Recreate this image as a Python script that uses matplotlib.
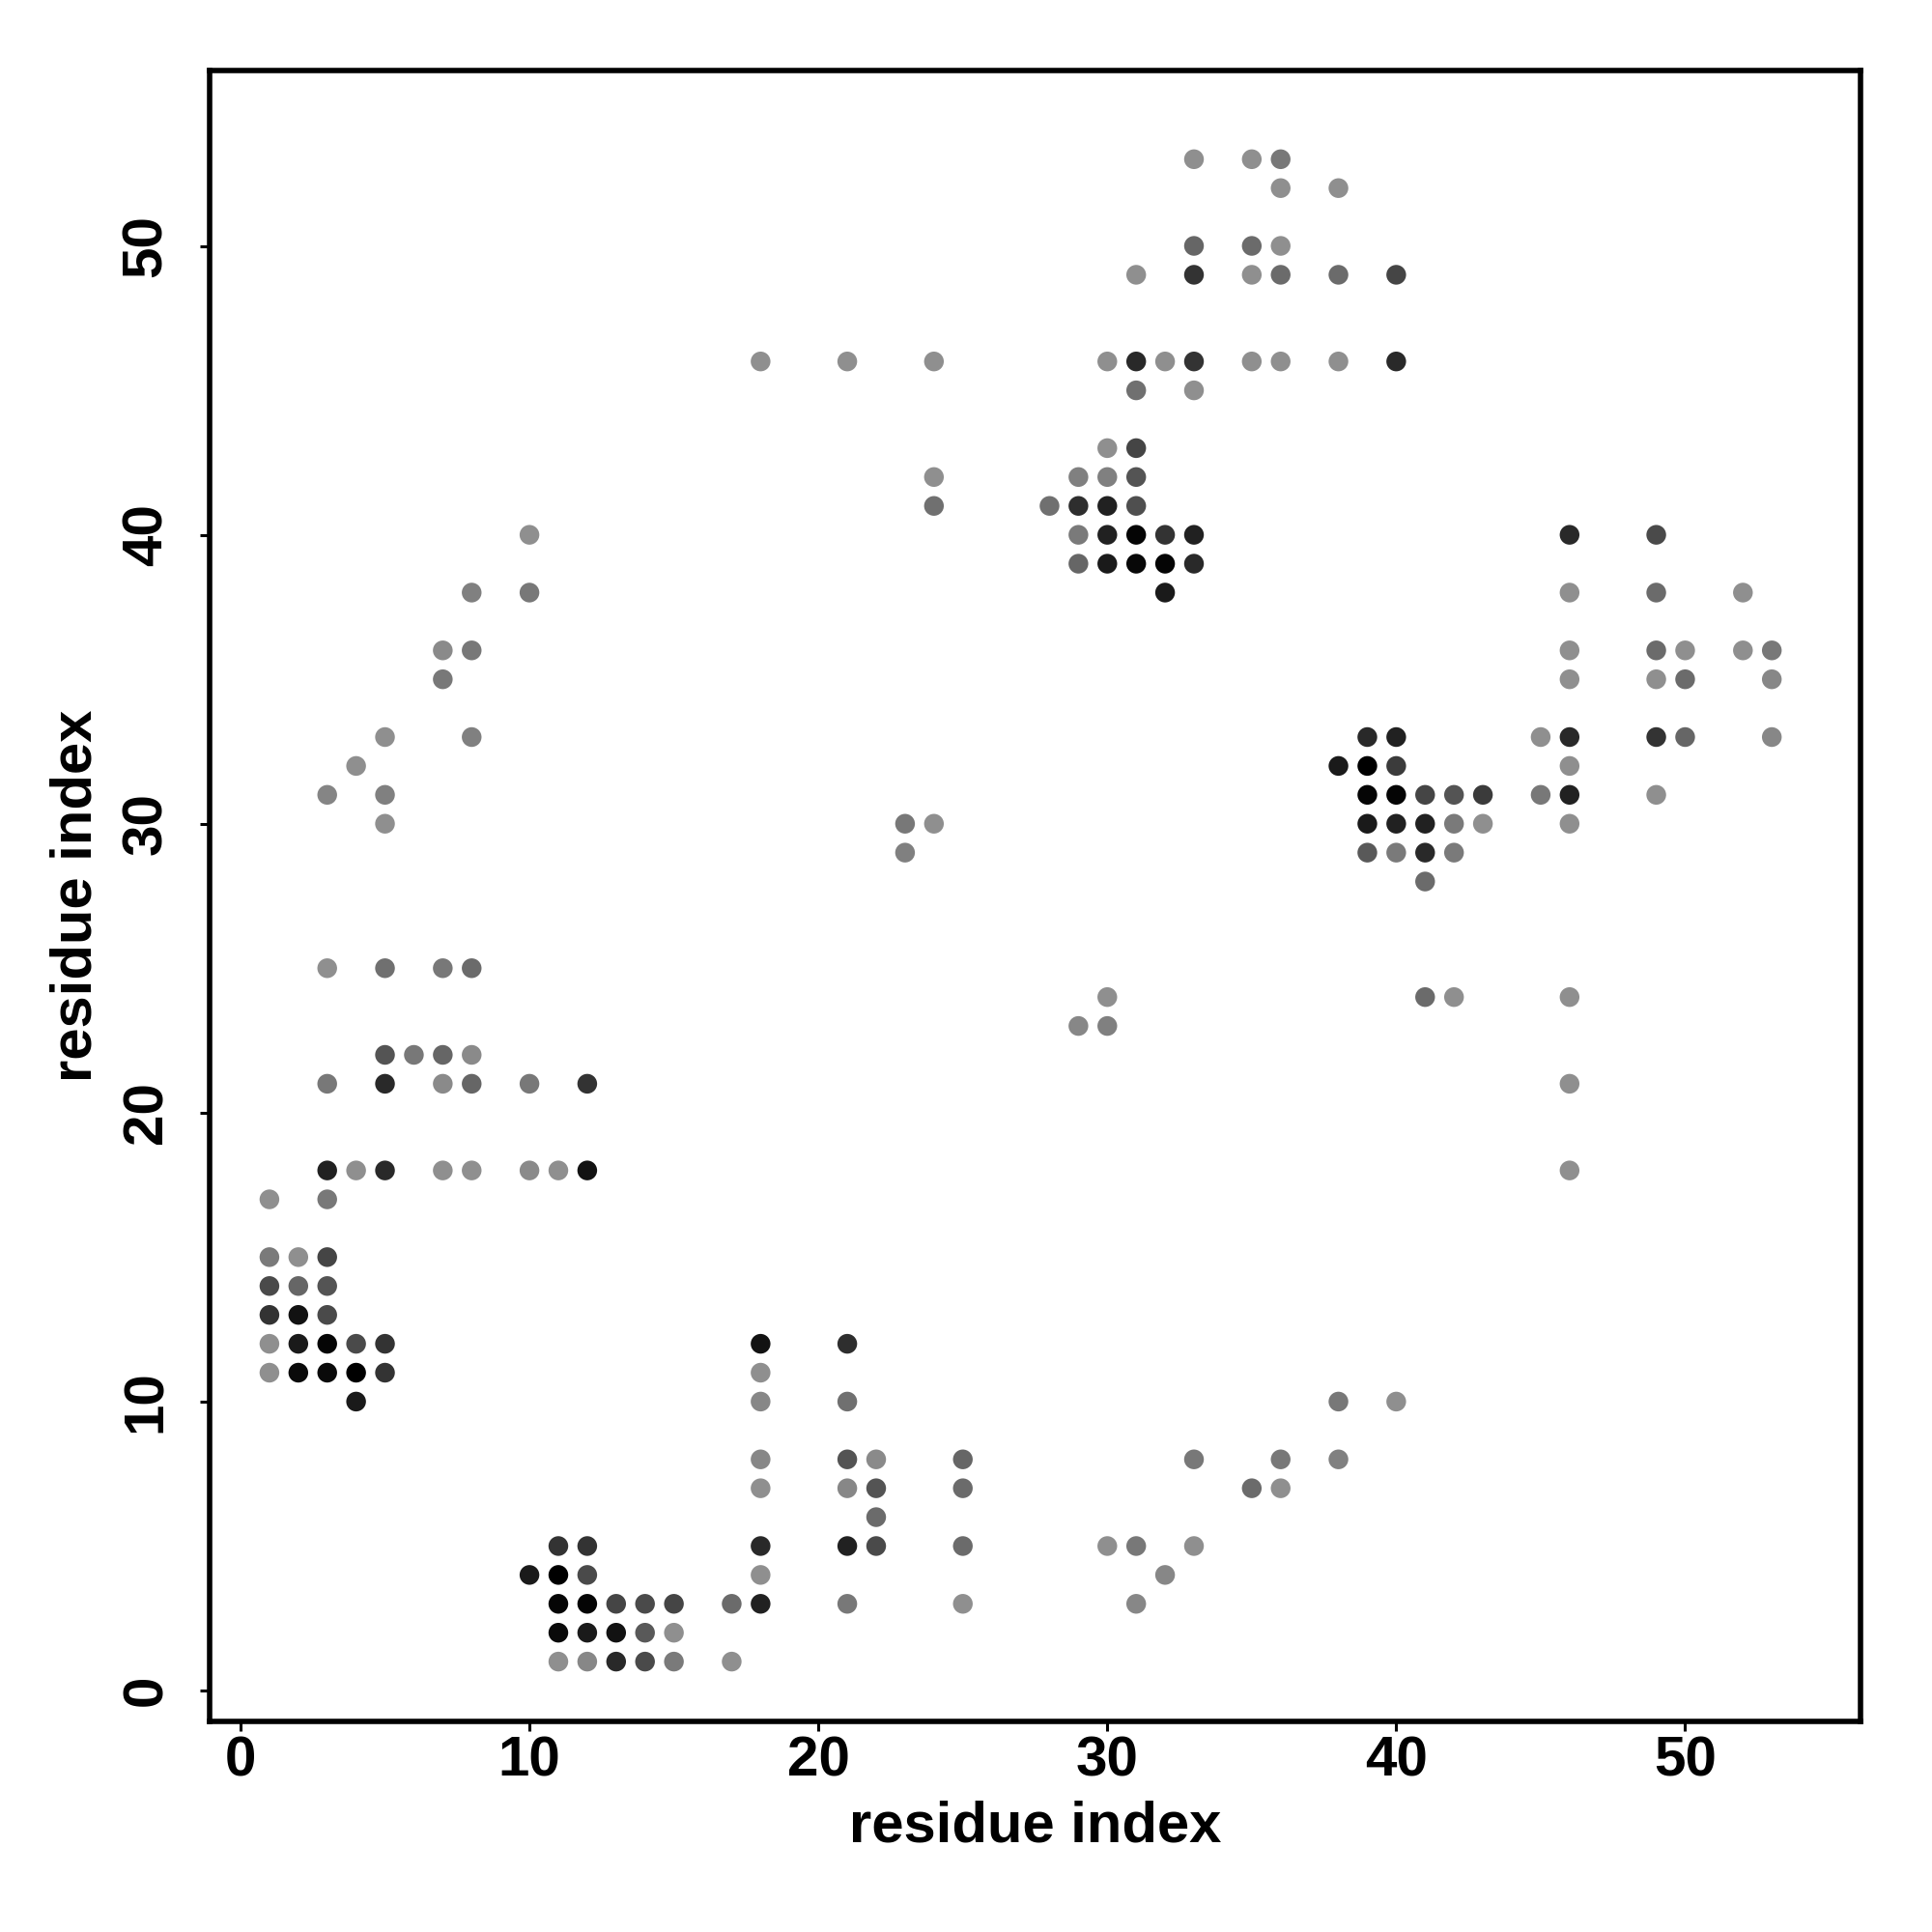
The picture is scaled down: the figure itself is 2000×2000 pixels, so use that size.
import matplotlib
matplotlib.use("Agg")
import matplotlib.pyplot as plt

plt.rcParams["font.family"] = ["Liberation Sans", "DejaVu Sans"]
plt.rcParams["font.weight"] = "bold"

# contact map: residue i, residue j, grey level (0 = black)
res_i = [
    33, 35, 36,                                     # j=53
    36, 38,                                         # j=52
    33, 35, 36,                                     # j=50
    31, 33, 35, 36, 38, 40,                         # j=49
    18, 21, 24, 30, 31, 32, 33, 35, 36, 38, 40,     # j=46
    31, 33,                                         # j=45
    30, 31,                                         # j=43
    24, 29, 30, 31,                                 # j=42
    24, 28, 29, 30, 31,                             # j=41
    10, 29, 30, 31, 32, 33, 46, 49,                 # j=40
    29, 30, 31, 32, 33,                             # j=39
    8, 10, 32, 46, 49, 52,                          # j=38
    7, 8, 46, 49, 50, 52, 53,                       # j=36
    7, 46, 49, 50, 53,                              # j=35
    5, 8, 39, 40, 45, 46, 49, 50, 53,               # j=33
    4, 38, 39, 40, 46,                              # j=32
    3, 5, 39, 40, 41, 42, 43, 45, 46, 49,           # j=31
    5, 23, 24, 39, 40, 41, 42, 43, 46,              # j=30
    23, 39, 40, 41, 42,                             # j=29
    41,                                             # j=28
    3, 5, 7, 8,                                     # j=25
    30, 41, 42, 46,                                 # j=24
    29, 30,                                         # j=23
    5, 6, 7, 8,                                     # j=22
    3, 5, 7, 8, 10, 12, 46,                         # j=21
    3, 4, 5, 7, 8, 10, 11, 12, 46,                  # j=18
    1, 3,                                           # j=17
    1, 2, 3,                                        # j=15
    1, 2, 3,                                        # j=14
    1, 2, 3,                                        # j=13
    1, 2, 3, 4, 5, 18, 21,                          # j=12
    1, 2, 3, 4, 5, 18,                              # j=11
    4, 18, 21, 38, 40,                              # j=10
    18, 21, 22, 25, 33, 36, 38,                     # j=8
    18, 21, 22, 25, 35, 36,                         # j=7
    22,                                             # j=6
    11, 12, 18, 21, 22, 25, 30, 31, 33,             # j=5
    10, 11, 12, 18, 32,                             # j=4
    11, 12, 13, 14, 15, 17, 18, 21, 25, 31,         # j=3
    11, 12, 13, 14, 15,                             # j=2
    11, 12, 13, 14, 15, 17,                         # j=1
]

res_j = (
    [53] * 3 + [52] * 2 + [50] * 3 + [49] * 6 + [46] * 11 + [45] * 2
    + [43] * 2 + [42] * 4 + [41] * 5 + [40] * 8 + [39] * 5 + [38] * 6
    + [36] * 7 + [35] * 5 + [33] * 9 + [32] * 5 + [31] * 10 + [30] * 9
    + [29] * 5 + [28] * 1 + [25] * 4 + [24] * 4 + [23] * 2 + [22] * 4
    + [21] * 7 + [18] * 9 + [17] * 2 + [15] * 3 + [14] * 3 + [13] * 3
    + [12] * 7 + [11] * 6 + [10] * 5 + [8] * 7 + [7] * 6 + [6] * 1
    + [5] * 9 + [4] * 5 + [3] * 10 + [2] * 5 + [1] * 6
)

shade = [
    .56, .56, .47,
    .56, .56,
    .40, .42, .56,
    .56, .20, .56, .42, .42, .27,
    .56, .56, .56, .56, .16, .56, .20, .56, .56, .56, .16,
    .44, .56,
    .56, .27,
    .56, .50, .50, .33,
    .44, .44, .18, .13, .31,
    .56, .48, .13, .02, .20, .13, .16, .29,
    .40, .10, .03, .02, .16,
    .50, .47, .10, .56, .42, .56,
    .54, .47, .56, .42, .56, .56, .47,
    .47, .56, .56, .42, .53,
    .56, .50, .16, .13, .56, .16, .20, .40, .53,
    .56, .10, .00, .23, .56,
    .52, .50, .02, .02, .27, .33, .23, .47, .13, .56,
    .56, .47, .56, .10, .13, .13, .48, .56, .56,
    .50, .35, .48, .16, .48,
    .42,
    .56, .44, .47, .42,
    .56, .42, .56, .56,
    .53, .50,
    .33, .47, .40, .54,
    .47, .16, .54, .40, .47, .20, .56,
    .13, .56, .16, .56, .56, .54, .56, .07, .56,
    .56, .47,
    .48, .56, .27,
    .29, .40, .33,
    .20, .07, .29,
    .56, .10, .02, .29, .20, .07, .18,
    .56, .04, .04, .00, .20, .56,
    .10, .53, .44, .47, .56,
    .53, .33, .54, .40, .47, .47, .50,
    .56, .53, .33, .42, .42, .56,
    .42,
    .20, .20, .16, .13, .29, .42, .56, .47, .56,
    .10, .00, .29, .56, .53,
    .02, .02, .27, .29, .27, .42, .13, .47, .56, .53,
    .04, .10, .07, .35, .56,
    .56, .53, .16, .29, .48, .56,
]

ticks = [0, 10, 20, 30, 40, 50]

fig = plt.figure(figsize=(10, 10), dpi=200)
ax = fig.add_axes([0.1085, 0.109, 0.8545, 0.8545])

colors = [(g, g, g) for g in shade]
ax.scatter(res_i, res_j, c=colors, s=54, edgecolors="none", zorder=3)

ax.set_xlim(-1.07, 56.07)
ax.set_ylim(-1.07, 56.07)

for sp in ax.spines.values():
    sp.set_linewidth(2.0)
    sp.set_color("black")

ax.set_xticks(ticks)
ax.set_yticks(ticks)
ax.tick_params(axis="both", direction="out", length=3.6, width=1.1,
               labelsize=21)
ax.tick_params(axis="x", pad=1.5)
ax.tick_params(axis="y", pad=10)
for lab in ax.get_yticklabels():
    lab.set_rotation(90)
    lab.set_va("center")
for lab in ax.get_xticklabels() + ax.get_yticklabels():
    lab.set_fontweight("bold")

ax.set_xlabel("residue index", fontsize=21.5, fontweight="bold")
ax.set_ylabel("residue index", fontsize=21.5, fontweight="bold")
ax.xaxis.label.set_va("center")
ax.yaxis.label.set_va("center")
ax.xaxis.set_label_coords(0.5, -0.0638)
ax.yaxis.set_label_coords(-0.0807, 0.5)

fig.savefig("out.png", dpi=200)
